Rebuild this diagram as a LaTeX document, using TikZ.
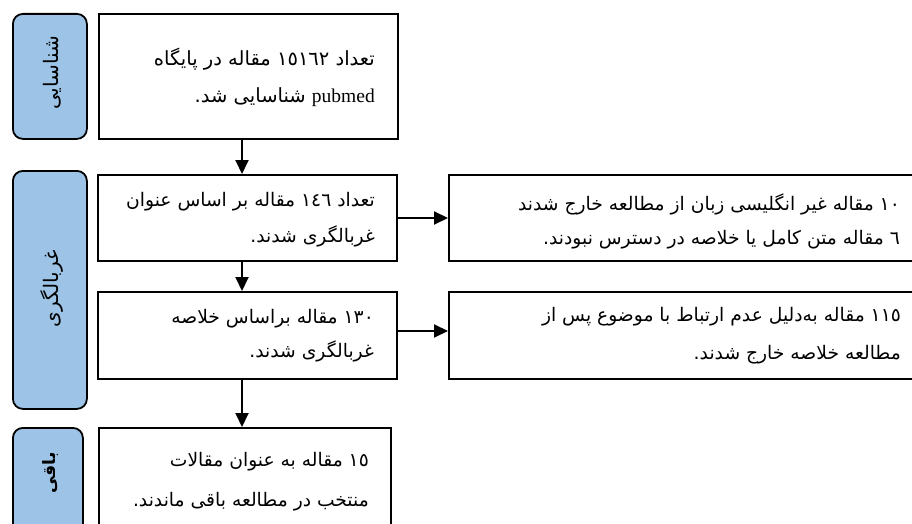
\documentclass[tikz,border=0pt]{standalone}
\usepackage{fontspec}
\setmainfont{Liberation Serif}
\newfontfamily\arabicfont[Script=Arabic]{DejaVu Sans}
\newfontfamily\latinserif{Liberation Serif}
\TeXXeTstate=1
\usetikzlibrary{arrows.meta}
\definecolor{sideblue}{RGB}{157,195,230}
\tikzset{
  mainbox/.style={draw=black, line width=2pt, inner sep=0pt, anchor=north west},
  sidebox/.style={draw=black, line width=1.8pt, fill=sideblue, rounded corners=10pt, inner sep=0pt, anchor=north west},
  txt/.style={font=\arabicfont\fontsize{18.7}{#1}\selectfont, align=right, inner sep=0pt, anchor=east},
  bigtxt/.style={font=\arabicfont\fontsize{19.5}{#1}\selectfont, align=right, inner sep=0pt, anchor=east},
  sidelabel/.style={font=\arabicfont\fontsize{20}{24}\selectfont, inner sep=0pt, rotate=90},
  arr/.style={line width=2pt, -{Triangle[length=14pt,width=13pt]}}
}
\begin{document}
\begin{tikzpicture}[x=1pt,y=-1pt]
\useasboundingbox (0,0) rectangle (912,524);
\clip (0,0) rectangle (912,524);
% side boxes
\node[sidebox, minimum width=74, minimum height=125] (s1) at (12,13) {};
\node[sidebox, minimum width=74, minimum height=238] (s2) at (12,170) {};
\node[sidebox, minimum width=70, minimum height=130] (s3) at (12,427) {};
\node[sidelabel] (l1) at (52,73) {\beginR شناسایی\endR};
\node[sidelabel] (l2) at (52,289) {\beginR غربالگری\endR};
\node[sidelabel, font=\arabicfont\bfseries\fontsize{17}{20}\selectfont] (l3) at (51,473) {\beginR باقی\endR};
% main boxes
\node[mainbox, minimum width=299, minimum height=125] (b1) at (98,13) {};
\node[mainbox, minimum width=299, minimum height=86] (b2) at (97,174) {};
\node[mainbox, minimum width=299, minimum height=87] (b3) at (97,291) {};
\node[mainbox, minimum width=292, minimum height=130] (b4) at (98,427) {};
\node[mainbox, minimum width=480, minimum height=86] (r1) at (448,174) {};
\node[mainbox, minimum width=480, minimum height=87] (r2) at (448,291) {};
% texts
\node[bigtxt=37] (t1) at (375,77) {\beginR تعداد ١٥١٦٢ مقاله در پایگاه\endR\\\beginR \beginL{\latinserif pubmed}\endL{} شناسایی شد.\endR};
\node[txt=36] (t2) at (375,220) {\beginR تعداد ١٤٦ مقاله بر اساس عنوان\endR\\\beginR غربالگری شدند.\endR};
\node[txt=34] (t3) at (374,336) {\beginR ١٣٠ مقاله براساس خلاصه\endR\\\beginR غربالگری شدند.\endR};
\node[txt=40] (t4) at (369,482) {\beginR ١٥ مقاله به عنوان مقالات\endR\\\beginR منتخب در مطالعه باقی ماندند.\endR};
\node[txt=34] (t5) at (900,221) {\beginR ١٠ مقاله غیر انگلیسی زبان از مطالعه خارج شدند\endR\\\beginR ٦ مقاله متن کامل یا خلاصه در دسترس نبودند.\endR};
\node[txt=38] (t6) at (901,336) {\beginR ١١٥ مقاله به‌دلیل عدم ارتباط با موضوع پس از\endR\\\beginR مطالعه خلاصه خارج شدند.\endR};
% arrows
\coordinate (ax) at (242,0);
\draw[arr] (b1.south -| ax) -- (b2.north -| ax);
\draw[arr] (b2.south -| ax) -- (b3.north -| ax);
\draw[arr] (b3.south -| ax) -- (b4.north -| ax);
\draw[arr] (b2.east) -- (r1.west);
\draw[arr] ([yshift=4.5pt]b3.east) -- ([yshift=4.5pt]r2.west);
\end{tikzpicture}
\end{document}
